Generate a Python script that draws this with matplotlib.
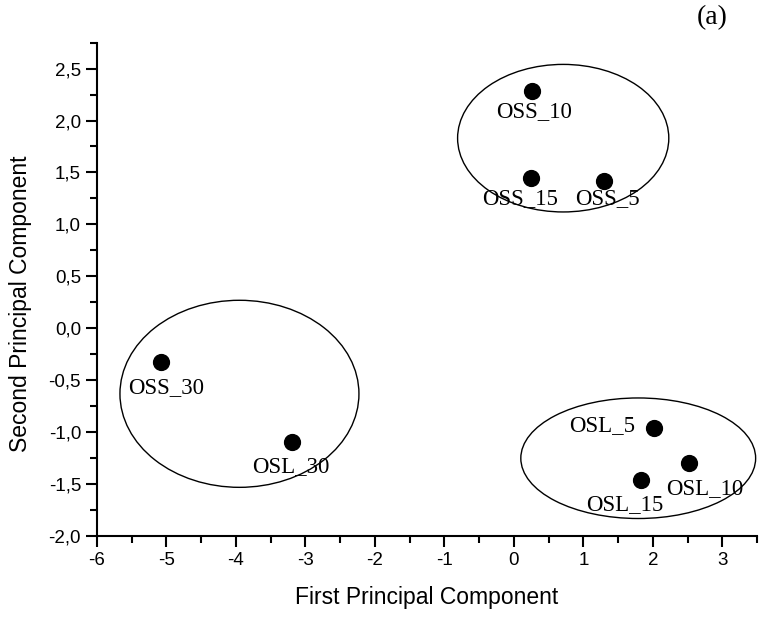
import matplotlib
matplotlib.use("Agg")
import matplotlib.pyplot as plt
from matplotlib.patches import Ellipse
from matplotlib.ticker import MultipleLocator, FuncFormatter

# Datos
etiquetas = ["OSS_10", "OSS_15", "OSS_5", "OSS_30", "OSL_30", "OSL_5", "OSL_15", "OSL_10"]
pc1 = [0.26, 0.24, 1.30, -5.08, -3.19, 2.01, 1.83, 2.52]
pc2 = [2.28, 1.45, 1.42, -0.32, -1.09, -0.96, -1.46, -1.30]
# desplazamiento de cada etiqueta (pixeles)
desplaz = [(2, -20), (-10, -21), (3, -18), (5, -26), (-1, -25), (-51, 3), (-16, -24), (16, -25)]

# grupos (centro x, centro y, ancho, alto)
grupos_cx = [0.71, -3.95, 1.79]
grupos_cy = [1.83, -0.63, -1.25]
grupos_w = [3.04, 3.44, 3.38]
grupos_h = [1.42, 1.80, 1.16]

fig = plt.figure(figsize=(7.67, 6.17), dpi=100)
ax = fig.add_axes([0.1265, 0.131, 0.8605, 0.8])

ax.scatter(pc1, pc2, s=130, color="black", zorder=3)
for txt, x, y, d in zip(etiquetas, pc1, pc2, desplaz):
    ax.annotate(txt, (x, y), xytext=d, textcoords="offset pixels",
                ha="center", va="center", fontsize=16.5, family="Liberation Serif")

for cx, cy, w, h in zip(grupos_cx, grupos_cy, grupos_w, grupos_h):
    ax.add_patch(Ellipse((cx, cy), w, h, fill=False, edgecolor="black", lw=1.0))

ax.set_xlim(-6, 3.5)
ax.set_ylim(-2.0, 2.75)
ax.xaxis.set_major_locator(MultipleLocator(1))
ax.xaxis.set_minor_locator(MultipleLocator(0.5))
ax.yaxis.set_major_locator(MultipleLocator(0.5))
ax.yaxis.set_minor_locator(MultipleLocator(0.25))
ax.yaxis.set_major_formatter(FuncFormatter(lambda v, p: f"{v:.1f}".replace(".", ",")))
ax.xaxis.set_major_formatter(FuncFormatter(lambda v, p: f"{v:.0f}"))

for s in ["top", "right"]:
    ax.spines[s].set_visible(False)
for s in ["left", "bottom"]:
    ax.spines[s].set_linewidth(1.5)
ax.tick_params(which="major", direction="out", length=8, width=1.5, labelsize=13.5)
ax.tick_params(which="minor", direction="out", length=5, width=1.5)
for lab in ax.get_xticklabels() + ax.get_yticklabels():
    lab.set_family("Liberation Sans")

ax.set_xlabel("First Principal Component", fontsize=16.5, family="Liberation Sans")
ax.set_ylabel("Second Principal Component", fontsize=16.5, family="Liberation Sans")
ax.xaxis.set_label_coords(0.5, -0.1)
ax.yaxis.set_label_coords(-0.098, 0.47)

fig.text(0.928, 0.972, "(a)", fontsize=20, family="Liberation Serif", ha="center", va="center")

fig.savefig("out.png", dpi=100)
